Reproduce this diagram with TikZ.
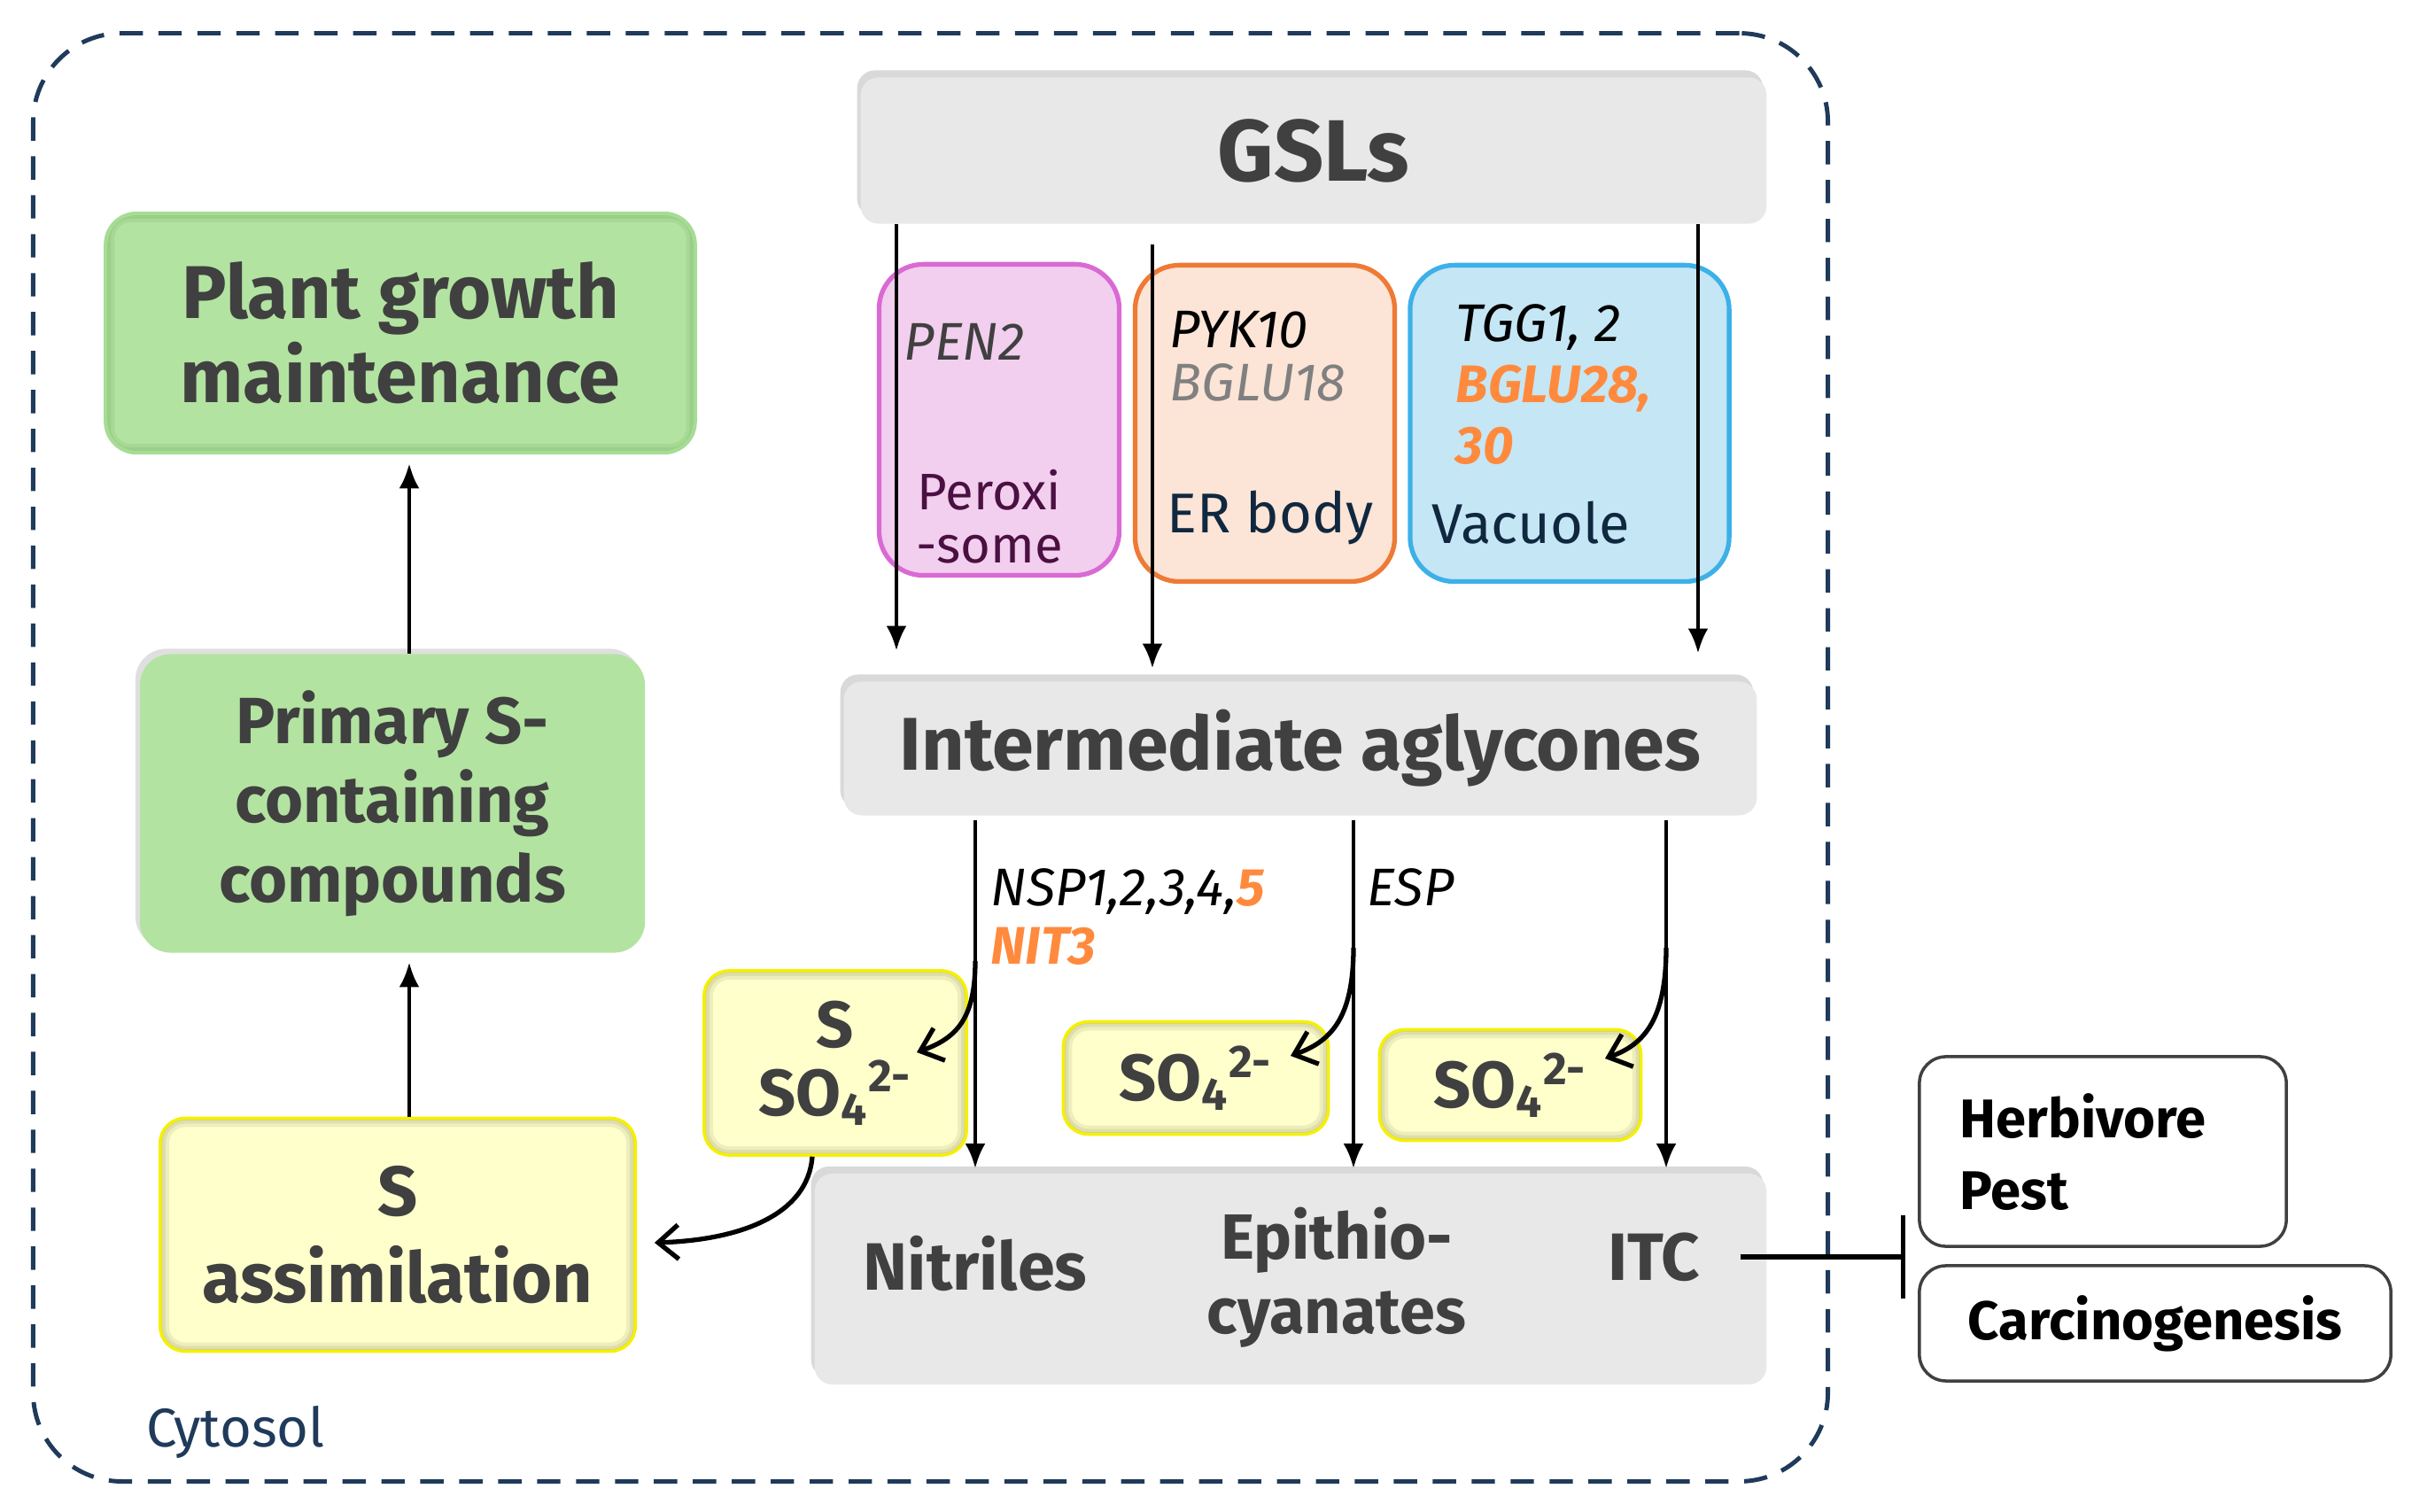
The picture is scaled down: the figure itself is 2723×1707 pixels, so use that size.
\documentclass[tikz,border=0pt]{standalone}
\usepackage{fontspec}
\setmainfont{Fira Sans}
\usetikzlibrary{arrows.meta,shadows,calc}
\definecolor{txt}{HTML}{404040}
\definecolor{navy}{HTML}{1F3A5A}
\definecolor{boxgray}{HTML}{E8E8E8}
\definecolor{grnF}{HTML}{B3E3A1}
\definecolor{grnB}{HTML}{A6DC93}
\definecolor{grnD}{HTML}{7FB86B}
\definecolor{yelF}{HTML}{FFFFCC}
\definecolor{yelB}{HTML}{F5F000}
\definecolor{yelD}{HTML}{B5B585}
\definecolor{pinkF}{HTML}{F2CFEE}
\definecolor{pinkB}{HTML}{DA6AD3}
\definecolor{orF}{HTML}{FCE4D6}
\definecolor{orB}{HTML}{EE7A35}
\definecolor{bluF}{HTML}{C5E6F5}
\definecolor{bluB}{HTML}{3DB0E8}
\definecolor{orT}{HTML}{FF8A3D}
\definecolor{grayT}{HTML}{808080}
\definecolor{purT}{HTML}{4B1042}
\definecolor{navT}{HTML}{10283F}
\newcommand\sofour{SO\textsubscript{4}\textsuperscript{2-}}
\newcommand\fs[2]{\fontsize{#1}{#2}\selectfont}
\begin{document}
\begin{tikzpicture}[x=0.01cm,y=-0.01cm,
  every node/.style={text=txt},
  cyto/.style={draw=navy, line width=1.4pt, dash pattern=on 7.5pt off 5pt, rounded corners=1cm},
  gbox/.style={fill=boxgray, rounded corners=0.2cm,
     drop shadow={shadow xshift=-0.04cm, shadow yshift=0.08cm, opacity=0.3}},
  org/.style={line width=1.5pt, rounded corners=0.5cm},
  glow/.style={path picture={
     \foreach \w/\o in {0.20/0.22,0.12/0.28,0.05/0.35}{
       \draw[line width=\w cm, draw=#1, opacity=\o, rounded corners=0.28cm]
         (path picture bounding box.south west) rectangle (path picture bounding box.north east);}}},
  ybox/.style={fill=yelF, draw=yelB, line width=1pt, rounded corners=0.28cm, glow=yelD,
     font=\fs{21}{22}\bfseries, align=center},
  plantbox/.style={fill=grnF, draw=grnB, line width=1.2pt, rounded corners=0.35cm, glow=grnD},
  primbox/.style={fill=grnF, rounded corners=0.35cm,
     drop shadow={shadow xshift=-0.05cm, shadow yshift=0.06cm, opacity=0.25}},
  wbox/.style={fill=white, draw=txt, line width=1pt, rounded corners=0.3cm},
  lab/.style={inner sep=0pt, font=\fs{17}{17}},
  ptxt/.style={inner sep=0pt, font=\fs{21.5}{24}\bfseries, align=center},
  arr/.style={line width=1.3pt, -{Latex[length=8pt,width=6.5pt]}},
  carr/.style={line width=1.5pt, -{Straight Barb[length=6.5pt,width=11pt,line width=1.5pt]}},
  inh/.style={line width=1.6pt, -{Bar[width=0.94cm,line width=1.6pt]}}
]
\useasboundingbox (0,0) rectangle (2723,1707);

% cytosol compartment
\node[cyto, minimum width=20.25cm, minimum height=16.34cm] (cyto) at (1050.5,855) {};
\node[inner sep=0pt, font=\fs{17.5}{20}, text=navy] (cyt) at (266,1617) {Cytosol};

% gray boxes
\node[gbox, minimum width=10.22cm, minimum height=1.65cm, font=\fs{28}{30}\bfseries] (gsl) at (1483,170) {GSLs};
\node[gbox, minimum width=10.30cm, minimum height=1.51cm, font=\fs{24}{28}\bfseries] (agly) at (1468,845) {Intermediate aglycones};
\node[gbox, minimum width=10.74cm, minimum height=2.38cm] (prod) at (1457,1444) {};

% organelles
\node[org, draw=pinkB, fill=pinkF, minimum width=2.71cm, minimum height=3.51cm] (pero) at (1128,474) {};
\node[org, draw=orB, fill=orF, minimum width=2.93cm, minimum height=3.57cm] (er) at (1428,478) {};
\node[org, draw=bluB, fill=bluF, minimum width=3.60cm, minimum height=3.57cm] (vac) at (1772,478) {};

\node[lab, anchor=west, font=\fs{17}{17}\itshape] (pen) at (1020,386) {PEN2};
\node[lab, align=center, text=purT, font=\fs{16.5}{17}] (perot) at (1117,583) {Peroxi\\-some};
\node[lab, anchor=west, align=left, text=black, font=\fs{17}{17}\itshape] (pyk) at (1320,402) {PYK10\\\textcolor{grayT}{BGLU18}};
\node[lab, text=navT, font=\fs{18}{18}] (ert) at (1434,585) {ER body};
\node[lab, anchor=west, align=left, text=black, font=\fs{17}{19.5}\itshape] (tgg) at (1643,434) {TGG1, 2\\\textcolor{orT}{\bfseries BGLU28,}\\\textcolor{orT}{\bfseries 30}};
\node[lab, anchor=west, text=navT, font=\fs{18}{18}] (vact) at (1616,590) {Vacuole};

% arrows GSLs -> aglycones
\coordinate (x1) at (1012,0);
\coordinate (x2) at (1301,0);
\coordinate (x3) at (1917,0);
\draw[arr, shorten >=0.34cm] (gsl.south -| x1) -- (agly.north -| x1);
\draw[arr, shorten <=0.23cm, shorten >=0.14cm] (gsl.south -| x2) -- (agly.north -| x2);
\draw[arr, shorten >=0.31cm] (gsl.south -| x3) -- (agly.north -| x3);

% sulfur boxes
\node[ybox, minimum width=2.96cm, minimum height=2.08cm] (s1) at (943,1200) {S\\\sofour};
\node[ybox, minimum width=2.99cm, minimum height=1.27cm] (s2) at (1350,1217) {\sofour};
\node[ybox, minimum width=2.95cm, minimum height=1.25cm] (s3) at (1705,1225) {\sofour};

% arrows aglycones -> products
\coordinate (x4) at (1101,0);
\coordinate (x5) at (1528,0);
\coordinate (x6) at (1881,0);
\draw[arr, shorten <=0.05cm, shorten >=0.05cm] (agly.south -| x4) -- (prod.north -| x4);
\draw[arr, shorten <=0.05cm, shorten >=0.05cm] (agly.south -| x5) -- (prod.north -| x5);
\draw[arr, shorten <=0.05cm, shorten >=0.05cm] (agly.south -| x6) -- (prod.north -| x6);

\node[lab, anchor=west, align=left, text=black, font=\fs{17}{19}\itshape] (nsp) at (1118,1035) {NSP1,2,3,4,\textcolor{orT}{\bfseries 5}\\\textcolor{orT}{\bfseries NIT3}};
\node[lab, anchor=west, text=black, font=\fs{17}{19}\itshape] (esp) at (1543,1002) {ESP};

% branch arrows into sulfur boxes
\coordinate (k1) at (1101,1085);
\coordinate (t1) at (1035,1188);
\coordinate (k2) at (1528,1070);
\coordinate (t2) at (1457,1192);
\coordinate (k3) at (1881,1070);
\coordinate (t3) at (1812,1195);
\draw[carr] (k1) .. controls (1101,1150) and (1080,1172) .. (t1);
\draw[carr] (k2) .. controls (1528,1150) and (1502,1176) .. (t2);
\draw[carr] (k3) .. controls (1881,1150) and (1857,1179) .. (t3);

% products
\node[ptxt] (nit) at (1101,1426) {Nitriles};
\node[ptxt, font=\fs{20.5}{24}\bfseries] (epi) at (1509,1442) {Epithio-\\cyanates};
\node[ptxt] (itc) at (1867,1419) {ITC};

% left column
\node[plantbox, minimum width=6.65cm, minimum height=2.70cm, align=center, font=\fs{24}{27}\bfseries] (plant) at (452,376) {Plant growth\\maintenance};
\node[primbox, minimum width=5.70cm, minimum height=3.37cm, align=center, font=\fs{21}{25.5}\bfseries] (prim) at (443,907) {Primary S-\\containing\\compounds};
\node[ybox, minimum width=5.36cm, minimum height=2.63cm, font=\fs{22.5}{28}\bfseries] (sass) at (449,1394) {S\\assimilation};

\coordinate (xl) at (462,0);
\draw[arr, shorten >=0.1cm] (prim.north -| xl) -- (plant.south -| xl);
\draw[arr, shorten >=0.1cm] (sass.north -| xl) -- (prim.south -| xl);

\draw[carr] ([xshift=-0.26cm]s1.south) .. controls (912,1372) and (835,1400) .. ([xshift=0.2cm,yshift=-0.09cm]sass.east);

% targets
\node[wbox, minimum width=4.14cm, minimum height=2.14cm] (herb) at (2374,1300) {};
\node[inner sep=0pt, anchor=west, align=left, text=black, font=\fs{17.5}{23}\bfseries] (herbt) at (2212,1301) {Herbivore\\Pest};
\node[wbox, minimum width=5.32cm, minimum height=1.30cm, text=black, font=\fs{17.5}{20}\bfseries] (carc) at (2433,1494) {Carcinogenesis};

\draw[inh, shorten >=0.14cm] ([xshift=0.45cm]itc.east) -- (herb.west |- itc);
\end{tikzpicture}
\end{document}
